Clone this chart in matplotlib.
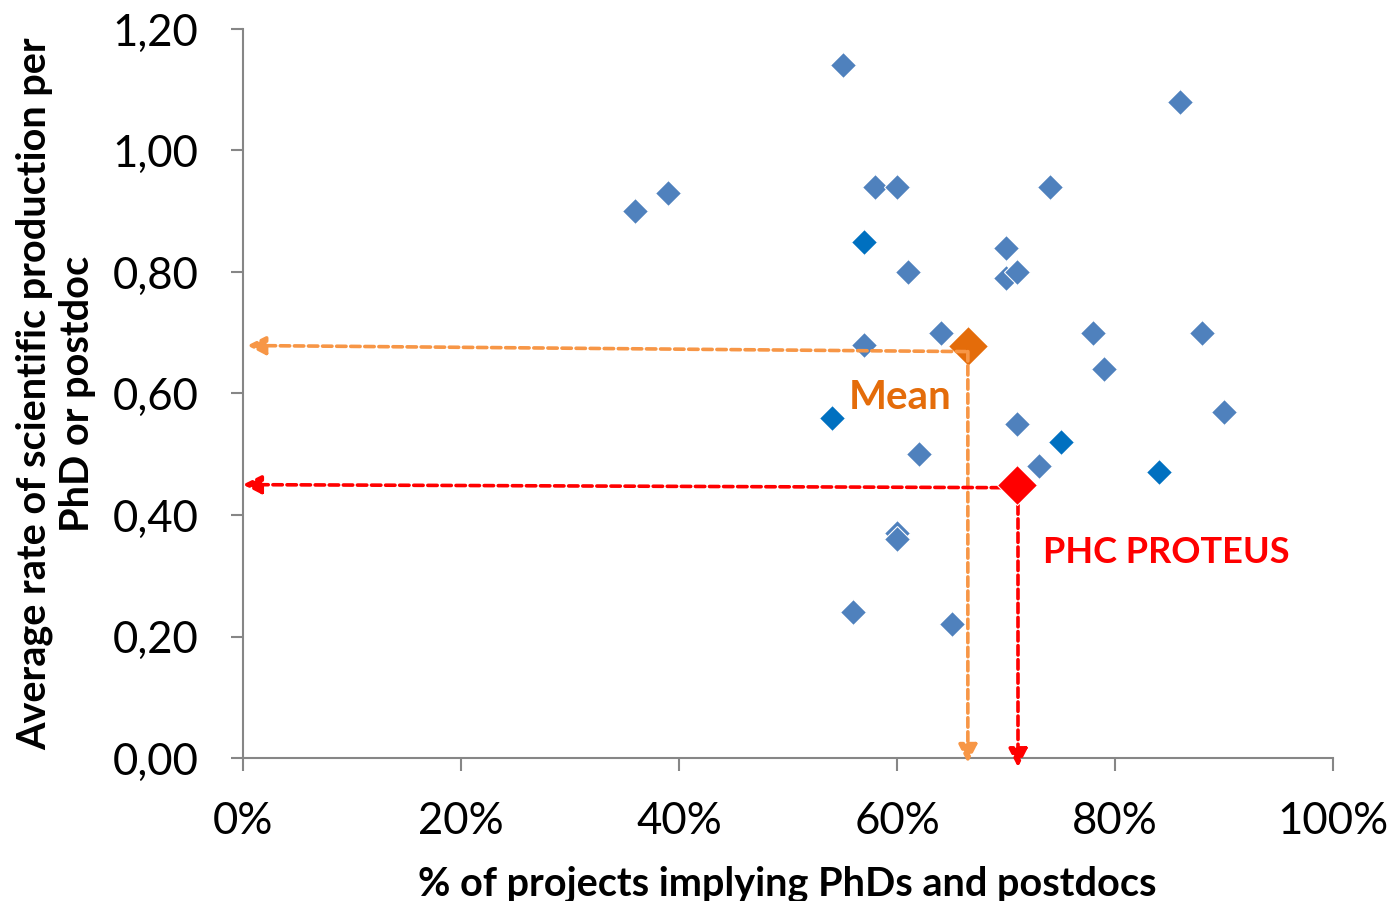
import matplotlib
matplotlib.use("Agg")
import matplotlib.pyplot as plt
from matplotlib.ticker import FuncFormatter

# projets (part avec doctorants/postdocs, production moyenne)
x_proj = [0.36, 0.39, 0.55, 0.58, 0.60, 0.61, 0.86, 0.74, 0.70, 0.70, 0.71, 0.78,
          0.88, 0.79, 0.90, 0.73, 0.64, 0.57, 0.71, 0.62, 0.60, 0.60, 0.56, 0.65]
y_proj = [0.90, 0.93, 1.14, 0.94, 0.94, 0.80, 1.08, 0.94, 0.84, 0.79, 0.80, 0.70,
          0.70, 0.64, 0.57, 0.48, 0.70, 0.68, 0.55, 0.50, 0.37, 0.36, 0.24, 0.22]

# projets en bleu plus fonce
x_proj2 = [0.57, 0.54, 0.75, 0.84]
y_proj2 = [0.85, 0.56, 0.52, 0.47]

x_moy, y_moy = 0.665, 0.679
x_phc, y_phc = 0.71, 0.45

x_ticks = [0, 0.2, 0.4, 0.6, 0.8, 1.0]
y_ticks = [0, 0.2, 0.4, 0.6, 0.8, 1.0, 1.2]

GRIS = "#868686"
BLEU = "#4F81BD"
BLEU2 = "#0070C0"
ORANGE = "#E46C0A"
ORANGE_CLAIR = "#F79646"
ROUGE = "#FF0000"

plt.rcParams['font.family'] = ['Lato', 'DejaVu Sans']


def fleche(ax, debut, fin, couleur):
    ax.annotate("", xy=fin, xytext=debut,
                arrowprops=dict(arrowstyle="-|>,head_length=0.55,head_width=0.28",
                                color=couleur, lw=2.6, ls=(0, (2.6, 1.3)),
                                shrinkA=0, shrinkB=0, mutation_scale=20),
                annotation_clip=False, zorder=5)


def graficar():
    fig = plt.figure(figsize=(13.91, 9.01), dpi=100)
    ax = fig.add_axes([243 / 1391, 143 / 901, 1090 / 1391, 729 / 901])

    ax.plot(x_proj, y_proj, "D", color=BLEU, markersize=13.5,
            markeredgecolor="white", markeredgewidth=0.8, zorder=3)
    ax.plot(x_proj2, y_proj2, "D", color=BLEU2, markersize=13.5,
            markeredgecolor="white", markeredgewidth=0.8, zorder=3)
    ax.plot([x_moy], [y_moy], "D", color=ORANGE, markersize=20,
            markeredgecolor="white", markeredgewidth=0.8, zorder=4)
    ax.plot([x_phc], [y_phc], "D", color=ROUGE, markersize=20,
            markeredgecolor="white", markeredgewidth=0.8, zorder=6)

    # lignes pointillees vers les axes
    fleche(ax, (x_moy - 0.002, y_moy - 0.010), (0.004, y_moy), ORANGE_CLAIR)
    fleche(ax, (x_moy, y_moy - 0.01), (x_moy, -0.008), ORANGE_CLAIR)
    fleche(ax, (x_phc - 0.015, y_phc - 0.005), (0.0, y_phc), ROUGE)
    fleche(ax, (x_phc + 0.001, y_phc - 0.01), (x_phc + 0.001, -0.015), ROUGE)

    ax.text(0.556, 0.594, "Mean", color=ORANGE, fontsize=29, fontweight="bold",
            ha="left", va="center")
    ax.text(0.734, 0.3375, "PHC PROTEUS", color=ROUGE, fontsize=26,
            fontweight="bold", ha="left", va="center")

    ax.set_xlim(0, 1)
    ax.set_ylim(0, 1.2)
    ax.set_xticks(x_ticks)
    ax.set_yticks(y_ticks)
    ax.xaxis.set_major_formatter(FuncFormatter(lambda v, p: f"{v * 100:.0f}%"))
    ax.yaxis.set_major_formatter(FuncFormatter(lambda v, p: f"{v:.2f}".replace(".", ",")))
    ax.tick_params(axis="both", direction="out", length=9, width=1.5, color=GRIS,
                   labelsize=31.5)
    ax.tick_params(axis="y", pad=23)
    ax.tick_params(axis="x", pad=22)

    for lado in ["top", "right"]:
        ax.spines[lado].set_visible(False)
    for lado in ["left", "bottom"]:
        ax.spines[lado].set_color(GRIS)
        ax.spines[lado].set_linewidth(1.5)

    fig.text(787 / 1391, 17 / 901, "% of projects implying PhDs and postdocs",
             fontsize=28.5, fontweight="bold", ha="center", va="center")
    fig.text(56 / 1391, (901 - 394) / 901,
             "Average rate of scientific production per\nPhD or postdoc",
             fontsize=28.5, fontweight="bold", rotation=90, ha="center", va="center",
             multialignment="center", linespacing=1.2)

    fig.savefig("out.png", dpi=100)


graficar()
